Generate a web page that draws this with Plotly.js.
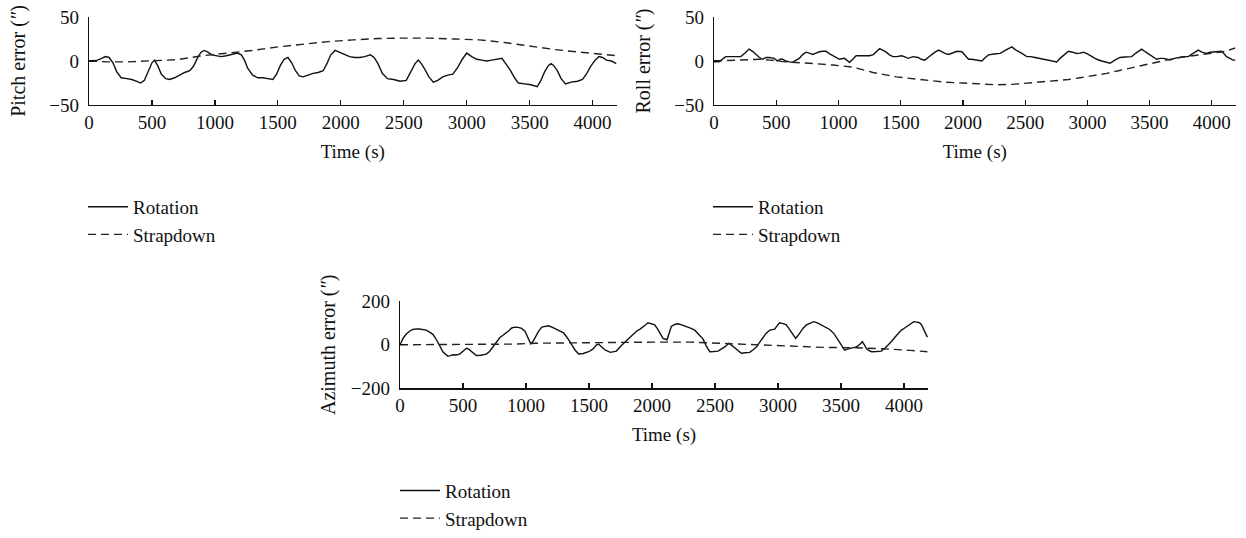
<!DOCTYPE html>
<html>
<head>
<meta charset="utf-8">
<script src="https://cdn.plot.ly/plotly-3.0.1.min.js"></script>
<style>html,body{margin:0;padding:0;background:#fff;}#chart{width:1246px;height:538px;}</style>
</head>
<body>
<div id="chart"></div>
<script>
// ---- Data (time in s, error in arcsec) ----
var seriesNames = ["Rotation", "Strapdown"];
var xTickVals = [0, 500, 1000, 1500, 2000, 2500, 3000, 3500, 4000];

var pitchRotT = [0,60,100,130,160,190,220,255,300,340,380,410,440,470,500,520,545,575,610,640,680,720,760,800,830,860,890,915,945,975,1010,1050,1090,1130,1180,1210,1235,1260,1300,1340,1380,1420,1460,1490,1520,1550,1580,1610,1640,1670,1700,1740,1780,1820,1860,1890,1920,1955,1990,2030,2070,2110,2150,2190,2235,2265,2295,2330,2370,2420,2470,2520,2560,2590,2615,2640,2670,2700,2735,2770,2810,2850,2890,2930,2965,3000,3040,3080,3120,3160,3200,3240,3280,3310,3345,3380,3410,3460,3510,3560,3590,3620,3650,3670,3690,3720,3750,3785,3830,3880,3920,3950,3985,4020,4050,4080,4110,4150,4190];
var pitchRotV = [0,0.5,3,5,4,-2,-12,-19,-20,-21,-23,-25,-22,-12,-2,1,-5,-15,-20,-21,-19,-16,-13,-11,-6,3,10,12,10,7,6,5,6,7,9,7,1,-8,-16,-19,-19,-20,-21,-15,-5,2,4,-2,-11,-17,-18,-16,-14,-13,-11,-3,7,12,10,7,5,4,4,5,7,4,-3,-14,-20,-21,-23,-22,-12,-3,1,-3,-10,-18,-24,-22,-18,-16,-15,-7,2,9,5,2,1,0,1,2,3,-3,-10,-19,-25,-26,-27,-29,-22,-12,-5,-3,-5,-11,-20,-26,-24,-23,-21,-15,-6,1,5,4,1,0,-3];
var pitchStrT = [0,150,300,500,700,900,1100,1300,1500,1700,1900,2100,2300,2500,2700,2900,3100,3300,3500,3700,3900,4100,4190];
var pitchStrV = [0,-1,-1,0,1.5,6,9,12,16,19,22,24,25.5,26,26,25,24,21,17,13,10,7,6];

var rollRotT = [0,40,94,175,215,250,282,310,336,365,390,420,444,484,511,531,551,578,605,632,660,685,710,739,765,793,820,847,875,901,930,954,980,1008,1048,1070,1089,1115,1142,1175,1210,1245,1277,1305,1331,1358,1384,1410,1438,1470,1505,1530,1559,1599,1640,1665,1694,1720,1747,1775,1805,1830,1855,1885,1920,1952,1992,2020,2045,2070,2099,2125,2152,2180,2206,2250,2299,2340,2370,2393,2420,2447,2480,2513,2545,2580,2620,2660,2700,2730,2754,2780,2810,2848,2880,2914,2940,2968,3000,3035,3075,3115,3150,3182,3220,3262,3300,3356,3390,3436,3470,3503,3530,3556,3585,3610,3640,3663,3700,3730,3770,3810,3850,3890,3920,3957,3985,4011,4045,4078,4100,4118,4145,4171,4190];
var rollRotV = [-1,-1,5,5,5,9,13.5,11,7.5,4,2,4,4,3,0,2,2,0,-1,-1.5,1,3,7,10,9,7.5,9,10.5,11,11,8,6,4,2,3,1,-1.5,2,6,6,5.6,6,7,11,14,12,10,7,5,5,6,5,3,5,4,2,1,4,7.5,10,12.4,10,8.6,7.5,9,11,10.5,6,2,2,1,0.5,0,4,7,8,8.6,12,14,16,13,11,8,5,5,4,3,2,1,0,-1,3,7,11,10,8.6,9,10,8,5,2,0,-1,-2.6,1,4,4.5,5,9,13.5,10,7,4,2,3,3,2,1,3,4,5,5,9,12.4,10,8.6,10,10.5,11,11,8,5,3,1,1];
var rollStrT = [0,175,363,450,578,766,954,1116,1277,1465,1653,1855,2005,2150,2273,2400,2540,2727,2850,2941,3050,3155,3250,3342,3450,3556,3650,3743,3840,3930,4010,4091,4140,4190];
var rollStrV = [0,1,2,1,-1,-2.6,-4.5,-7,-13,-18,-21,-24,-25,-26,-27,-26.5,-25,-23,-21,-19,-16.5,-14,-11,-8,-5,-1,1.5,4,6,7.5,9,10.5,12.5,15];

var aziRotT = [0,25,48,75,101,130,154,180,207,235,261,280,301,320,340,360,380,400,420,445,473,500,527,545,566,585,606,640,686,712,739,765,793,820,846,866,886,910,939,965,992,1015,1037,1055,1072,1098,1125,1150,1178,1210,1245,1270,1298,1330,1364,1390,1418,1455,1497,1530,1560,1577,1600,1630,1670,1717,1755,1796,1835,1876,1905,1929,1950,1968,1995,2021,2045,2061,2087,2119,2135,2153,2180,2206,2240,2272,2305,2339,2370,2405,2430,2458,2490,2524,2555,2577,2611,2635,2656,2680,2709,2740,2775,2800,2828,2855,2881,2905,2934,2955,2974,2993,3013,3040,3066,3085,3106,3124,3140,3155,3172,3198,3225,3255,3283,3312,3344,3378,3410,3445,3476,3500,3529,3550,3569,3600,3622,3650,3669,3685,3701,3720,3741,3780,3820,3850,3873,3900,3926,3950,3979,4005,4032,4055,4077,4100,4124,4140,4151,4165,4185];
var aziRotV = [0,30,48,62,70,73,72,70,67,58,48,32,12,-10,-32,-45,-53,-50,-46,-47,-43,-30,-16,-20,-29,-40,-49,-48,-43,-30,-10,12,33,45,55,65,77,81,80,75,62,35,4,15,33,60,81,85,87,80,70,64,55,30,-3,-25,-42,-40,-32,-20,0,3,-10,-25,-35,-29,-5,19,42,62,72,81,92,101,97,91,72,55,29,23,55,84,93,96,90,84,76,67,48,26,-5,-32,-31,-29,-18,-10,7,-5,-14,-28,-39,-37,-35,-24,-10,12,33,52,67,70,72,88,101,97,91,75,58,40,29,40,55,75,91,100,106,100,91,80,70,50,23,-2,-25,-20,-17,-13,-10,2,14,0,-17,-26,-32,-31,-29,-15,-3,15,33,50,67,77,87,97,106,104,101,90,77,55,35];
var aziStrT = [0,300,739,900,1080,1300,1500,1670,2000,2299,2450,2616,2828,2950,3093,3357,3622,3750,3886,4050,4185];
var aziStrV = [0,0,0,3,7,9,10,12,12,12,9,4,0,-3,-7,-12,-14,-16,-20,-26,-32];

// ---- Chart ----
var W = 1246, H = 538;
function px(x){ return x / W; }
function py(y){ return 1 - y / H; }
var FONT = "Liberation Serif, Times New Roman, serif";
var solid = {color: "#111", width: 1.4};
var dashed = {color: "#222", width: 1.4, dash: "8px,5px"};

var traces = [
  {x: pitchRotT, y: pitchRotV, name: seriesNames[0], mode: "lines", line: solid, xaxis: "x", yaxis: "y", legend: "legend"},
  {x: pitchStrT, y: pitchStrV, name: seriesNames[1], mode: "lines", line: dashed, xaxis: "x", yaxis: "y", legend: "legend"},
  {x: rollRotT, y: rollRotV, name: seriesNames[0], mode: "lines", line: solid, xaxis: "x2", yaxis: "y2", legend: "legend2"},
  {x: rollStrT, y: rollStrV, name: seriesNames[1], mode: "lines", line: dashed, xaxis: "x2", yaxis: "y2", legend: "legend2"},
  {x: aziRotT, y: aziRotV, name: seriesNames[0], mode: "lines", line: solid, xaxis: "x3", yaxis: "y3", legend: "legend3"},
  {x: aziStrT, y: aziStrV, name: seriesNames[1], mode: "lines", line: dashed, xaxis: "x3", yaxis: "y3", legend: "legend3"}
];

function xAx(d0, d1, anchor){
  return {domain: [px(d0), px(d1)], range: [0, 4190], anchor: anchor,
    showline: true, linecolor: "#111", linewidth: 1.3, mirror: false,
    ticks: "inside", ticklen: 5, tickwidth: 1.3, tickcolor: "#111",
    tickvals: xTickVals, showgrid: false, zeroline: false, fixedrange: true,
    title: {text: "Time (s)", standoff: 12, font: {family: FONT, size: 19, color: "#111"}}};
}
function yAx(top, bot, range, dt, title, anchor, standoff){
  return {domain: [py(bot), py(top)], range: range, dtick: dt, tick0: 0, anchor: anchor,
    showline: true, linecolor: "#111", linewidth: 1.3,
    ticks: "inside", ticklen: 5, tickwidth: 1.3, tickcolor: "#111",
    showgrid: false, zeroline: false, fixedrange: true, ticklabelstandoff: 5,
    title: {text: title, standoff: standoff, font: {family: FONT, size: 20, color: "#111"}}};
}
function leg(x, y){
  return {x: px(x), xanchor: "left", y: py(y), yanchor: "top", bgcolor: "rgba(0,0,0,0)",
    borderwidth: 0, itemwidth: 40, tracegroupgap: 0,
    font: {family: FONT, size: 19, color: "#111"}};
}

var layout = {
  width: W, height: H, margin: {l: 0, r: 0, t: 0, b: 0},
  paper_bgcolor: "#fff", plot_bgcolor: "#fff",
  font: {family: FONT, size: 19, color: "#111"},
  showlegend: true,
  xaxis: xAx(89, 616.5, "y"),
  yaxis: yAx(17.5, 108.5, [-50, 50], 50, "Pitch error (<i>″</i>)", "x", 18),
  xaxis2: xAx(714, 1235.5, "y2"),
  yaxis2: yAx(17.5, 108.5, [-50, 50], 50, "Roll error (<i>″</i>)", "x2", 18),
  xaxis3: xAx(400, 928, "y3"),
  yaxis3: yAx(311, 401, [-200, 200], 200, "Azimuth error (<i>″</i>)", "x3", 9),
  legend: leg(83, 194),
  legend2: leg(708, 194),
  legend3: leg(395, 487)
};

Plotly.newPlot("chart", traces, layout, {displayModeBar: false, staticPlot: true});
</script>
</body>
</html>
